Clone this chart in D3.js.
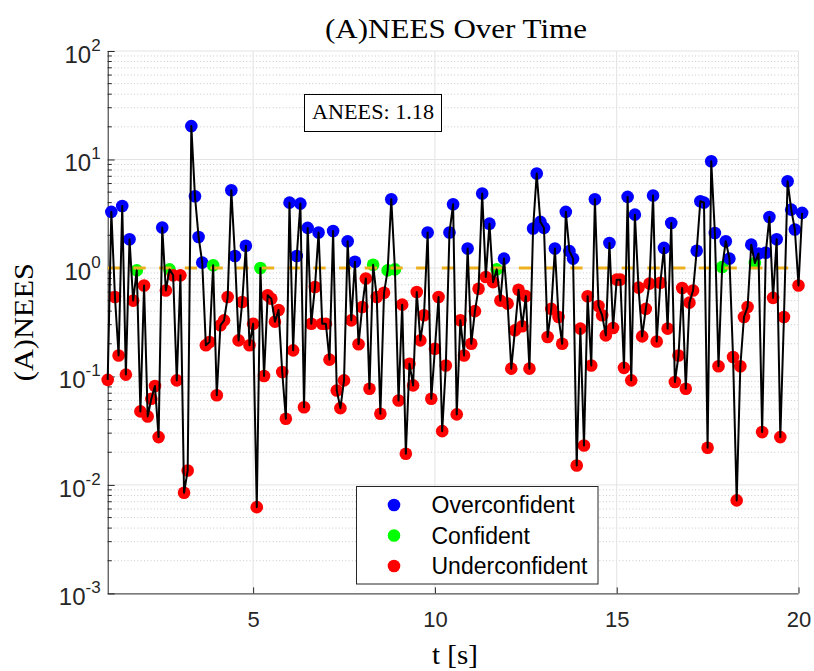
<!DOCTYPE html>
<html>
<head>
<meta charset="utf-8">
<script src="https://cdn.jsdelivr.net/npm/d3@7"></script>
<style>
  html, body { margin: 0; padding: 0; background: #ffffff; }
  svg { display: block; }
</style>
</head>
<body>
<svg id="chart" width="814" height="671"></svg>
<script>
// ---------------- DATA ----------------
const times = [
  1.0, 1.1, 1.2, 1.3, 1.4, 1.5, 1.6, 1.7, 1.8, 1.9,
  2.0, 2.1, 2.2, 2.3, 2.4, 2.5, 2.6, 2.7, 2.8, 2.9,
  3.0, 3.1, 3.2, 3.3, 3.4, 3.5, 3.6, 3.7, 3.8, 3.9,
  4.0, 4.1, 4.2, 4.3, 4.4, 4.5, 4.6, 4.7, 4.8, 4.9,
  5.0, 5.1, 5.2, 5.3, 5.4, 5.5, 5.6, 5.7, 5.8, 5.9,
  6.0, 6.1, 6.2, 6.3, 6.4, 6.5, 6.6, 6.7, 6.8, 6.9,
  7.0, 7.1, 7.2, 7.3, 7.4, 7.5, 7.6, 7.7, 7.8, 7.9,
  8.0, 8.1, 8.2, 8.3, 8.4, 8.5, 8.6, 8.7, 8.8, 8.9,
  9.0, 9.1, 9.2, 9.3, 9.4, 9.5, 9.6, 9.7, 9.8, 9.9,
  10.0, 10.1, 10.2, 10.3, 10.4, 10.5, 10.6, 10.7, 10.8, 10.9,
  11.0, 11.1, 11.2, 11.3, 11.4, 11.5, 11.6, 11.7, 11.8, 11.9,
  12.0, 12.1, 12.2, 12.3, 12.4, 12.5, 12.6, 12.7, 12.8, 12.9,
  13.0, 13.1, 13.2, 13.3, 13.4, 13.5, 13.6, 13.7, 13.8, 13.9,
  14.0, 14.1, 14.2, 14.3, 14.4, 14.5, 14.6, 14.7, 14.8, 14.9,
  15.0, 15.1, 15.2, 15.3, 15.4, 15.5, 15.6, 15.7, 15.8, 15.9,
  16.0, 16.1, 16.2, 16.3, 16.4, 16.5, 16.6, 16.7, 16.8, 16.9,
  17.0, 17.1, 17.2, 17.3, 17.4, 17.5, 17.6, 17.7, 17.8, 17.9,
  18.0, 18.1, 18.2, 18.3, 18.4, 18.5, 18.6, 18.7, 18.8, 18.9,
  19.0, 19.1, 19.2, 19.3, 19.4, 19.5, 19.6, 19.7, 19.8, 19.9,
  20.0, 20.1
];

const nees = [
  0.093, 3.29, 0.54, 0.156, 3.73, 0.104, 1.84, 0.50, 0.95, 0.0476,
  0.69, 0.0428, 0.0623, 0.0815, 0.0276, 2.36, 0.62, 0.97, 0.855, 0.092,
  0.855, 0.00846, 0.0136, 20.3, 4.58, 1.93, 1.12, 0.194, 0.208, 1.06,
  0.067, 0.296, 0.329, 0.54, 5.2, 1.29, 0.215, 0.486, 1.6, 0.194,
  0.306, 0.00624, 1.0, 0.101, 0.56, 0.52, 0.32, 0.41, 0.11, 0.0407,
  4.0, 0.174, 1.29, 3.92, 0.052, 2.34, 0.306, 0.668, 2.12, 0.306,
  0.306, 0.143, 2.19, 0.0743, 0.051, 0.092, 1.76, 0.329, 1.14, 0.198,
  0.437, 0.80, 0.077, 1.07, 0.54, 0.0453, 0.59, 0.95, 4.3, 0.97,
  0.060, 0.459, 0.0194, 0.131, 0.0827, 0.60, 0.215, 0.366, 2.12, 0.0623,
  0.18, 0.54, 0.0313, 0.126, 2.12, 3.87, 0.0447, 0.33, 0.156, 1.51,
  0.20, 0.40, 0.644, 4.85, 0.826, 2.56, 0.74, 0.97, 0.50, 1.22,
  0.469, 0.118, 0.266, 0.63, 0.29, 0.55, 0.118, 2.31, 7.42, 2.66,
  2.34, 0.231, 0.42, 1.51, 0.353, 0.20, 3.29, 1.43, 1.22, 0.0151,
  0.276, 0.0231, 0.548, 0.126, 4.3, 0.446, 0.366, 0.239, 1.70, 0.28,
  0.78, 0.78, 0.12, 4.52, 0.092, 3.1, 0.659, 0.234, 0.42, 0.717,
  4.65, 0.21, 0.73, 1.53, 0.276, 2.6, 0.0888, 0.156, 0.654, 0.077,
  0.479, 0.62, 1.44, 4.12, 4.0, 0.022, 9.64, 2.10, 0.124, 1.02,
  1.76, 1.22, 0.151, 0.0072, 0.124, 0.353, 0.437, 1.64, 1.11, 1.36,
  0.0307, 1.38, 2.95, 0.53, 1.84, 0.0276, 0.353, 6.3, 3.45, 2.26,
  0.69, 3.22
];

// O = Overconfident, C = Confident, U = Underconfident
const status = [
  "U","O","U","U","O","U","O","U","C","U",
  "U","U","U","U","U","O","U","C","U","U",
  "U","U","U","O","O","O","O","U","U","C",
  "U","U","U","U","O","O","U","U","O","U",
  "U","U","C","U","U","U","U","U","U","U",
  "O","U","O","O","U","O","U","U","O","U",
  "U","U","O","U","U","U","O","U","O","U",
  "U","U","U","C","U","U","U","C","O","C",
  "U","U","U","U","U","U","U","U","O","U",
  "U","U","U","U","O","O","U","U","U","O",
  "U","U","U","O","U","O","U","C","U","O",
  "U","U","U","U","U","U","U","O","O","O",
  "O","U","U","O","U","U","O","O","O","U",
  "U","U","U","U","O","U","U","U","O","U",
  "U","U","U","O","U","O","U","U","U","U",
  "O","U","U","O","U","O","U","U","U","U",
  "U","U","O","O","O","U","O","O","U","C",
  "O","O","U","U","U","U","U","O","C","O",
  "U","O","O","U","O","U","U","O","O","O",
  "U","O"
];

const statusKeys = ["O", "C", "U"];
const legendLabels = ["Overconfident", "Confident", "Underconfident"];
const statusColors = ["#0000ff", "#00ff00", "#ff0000"];

const xTicks = [5, 10, 15, 20];
const yDecades = [-3, -2, -1, 0, 1, 2];
const referenceLevel = 1;
const aneesText = "ANEES: 1.18";
const titleText = "(A)NEES Over Time";
const xLabelText = "t [s]";
const yLabelText = "(A)NEES";

// ---------------- LAYOUT ----------------
const svg = d3.select("#chart");
const L = 107.7, R = 798.5, T = 51, B = 593.4;

const x = d3.scaleLinear().domain([1, 20]).range([L, R]);
const y = d3.scaleLog().domain([1e-3, 1e2]).range([B, T]);
const color = d3.scaleOrdinal().domain(statusKeys).range(statusColors);

const sansFont = "'Liberation Sans', Arial, Helvetica, sans-serif";
const serifFont = "'Liberation Serif', 'Times New Roman', serif";

// minor grid (y, dotted)
const minorVals = [];
yDecades.slice(0, -1).forEach(d => {
  for (let m = 2; m <= 9; m++) minorVals.push(m * Math.pow(10, d));
});
svg.append("g").selectAll("line").data(minorVals).join("line")
  .attr("x1", L).attr("x2", R)
  .attr("y1", d => y(d)).attr("y2", d => y(d))
  .attr("stroke", "#c9c9c9").attr("stroke-width", 1)
  .attr("stroke-dasharray", "1,2.3");

// major grid
const decadeVals = yDecades.map(d => Math.pow(10, d));
svg.append("g").selectAll("line").data(decadeVals.slice(1)).join("line")
  .attr("x1", L).attr("x2", R)
  .attr("y1", d => y(d)).attr("y2", d => y(d))
  .attr("stroke", "#e3e3e3").attr("stroke-width", 1);
svg.append("g").selectAll("line").data(xTicks).join("line")
  .attr("x1", d => x(d)).attr("x2", d => x(d))
  .attr("y1", T).attr("y2", B)
  .attr("stroke", "#e3e3e3").attr("stroke-width", 1);

// axes
const axisColor = "#262626";
const xAxis = d3.axisBottom(x).tickValues(xTicks).tickSize(-6).tickFormat(d3.format("d"));
const gx = svg.append("g").attr("transform", `translate(0,${B})`).call(xAxis);
gx.select(".domain").attr("stroke", axisColor).attr("d", `M${L},0.5H${R}`);
gx.selectAll(".tick line").attr("stroke", axisColor);
gx.selectAll(".tick text")
  .attr("font-family", sansFont).attr("font-size", 22)
  .attr("fill", axisColor).attr("y", 18).attr("dy", "0.71em");

const yAxis = d3.axisLeft(y).tickValues(decadeVals).tickSize(-7).tickFormat("");
const gy = svg.append("g").attr("transform", `translate(${L},0)`).call(yAxis);
gy.select(".domain").attr("stroke", axisColor).attr("d", `M0.5,${T}V${B}`);
gy.selectAll(".tick line").attr("stroke", axisColor);

// minor ticks
svg.append("g").selectAll("line").data(minorVals).join("line")
  .attr("x1", L).attr("x2", L + 4)
  .attr("y1", d => y(d)).attr("y2", d => y(d))
  .attr("stroke", axisColor).attr("stroke-width", 1);

// y tick labels 10^k
const ylab = svg.append("g").selectAll("text").data(yDecades).join("text")
  .attr("font-family", sansFont).attr("fill", axisColor)
  .attr("text-anchor", "end")
  .attr("x", L - 7)
  .attr("y", d => y(Math.pow(10, d)) + 12);
ylab.append("tspan").attr("font-size", 24).text("10");
ylab.append("tspan").attr("font-size", 17).attr("dy", -12).text(d => d);

// markers
svg.append("g").selectAll("circle").data(nees).join("circle")
  .attr("cx", (d, i) => x(times[i]))
  .attr("cy", d => y(d))
  .attr("r", 6.3)
  .attr("fill", (d, i) => color(status[i]));

// reference dashed line
svg.append("line")
  .attr("x1", L).attr("x2", R)
  .attr("y1", y(referenceLevel)).attr("y2", y(referenceLevel))
  .attr("stroke", "#EDB120").attr("stroke-width", 3)
  .attr("stroke-dasharray", "12.3,13.4");

// data line
const line = d3.line().x((d, i) => x(times[i])).y(d => y(d));
svg.append("path").datum(nees)
  .attr("d", line)
  .attr("fill", "none").attr("stroke", "#000000").attr("stroke-width", 2)
  .attr("stroke-linejoin", "round");

// ANEES box
svg.append("rect").attr("x", 304.5).attr("y", 94.5).attr("width", 137).attr("height", 37)
  .attr("fill", "#ffffff").attr("stroke", "#000000").attr("stroke-width", 1);
svg.append("text").attr("x", 312).attr("y", 119)
  .attr("font-family", serifFont).attr("font-size", 21.5)
  .attr("textLength", 122).attr("lengthAdjust", "spacingAndGlyphs")
  .attr("fill", "#000").text(aneesText);

// legend
const lg = svg.append("g");
lg.append("rect").attr("x", 356.5).attr("y", 486.5).attr("width", 241.5).attr("height", 97.5)
  .attr("fill", "#ffffff").attr("stroke", axisColor).attr("stroke-width", 1);
const rows = lg.selectAll("g.row").data(statusKeys).join("g").attr("class", "row")
  .attr("transform", (d, i) => `translate(0,${505 + i * 30.5})`);
rows.append("circle").attr("cx", 394).attr("cy", 0).attr("r", 6.3).attr("fill", d => color(d));
rows.append("text").attr("x", 431.5).attr("y", 0).attr("dy", "0.36em")
  .attr("font-family", sansFont).attr("font-size", 23).attr("fill", "#000")
  .text((d, i) => legendLabels[i]);

// title & labels
svg.append("text").attr("x", 325).attr("y", 38)
  .attr("font-family", serifFont).attr("font-size", 28)
  .attr("textLength", 262).attr("lengthAdjust", "spacingAndGlyphs")
  .attr("fill", "#000").text(titleText);
svg.append("text").attr("x", 432).attr("y", 664)
  .attr("font-family", serifFont).attr("font-size", 27)
  .attr("textLength", 46).attr("lengthAdjust", "spacingAndGlyphs")
  .attr("fill", "#000").text(xLabelText);
svg.append("text")
  .attr("transform", `translate(33,${(T + B) / 2 + 59}) rotate(-90)`)
  .attr("font-family", serifFont).attr("font-size", 27)
  .attr("textLength", 118).attr("lengthAdjust", "spacingAndGlyphs")
  .attr("fill", "#000").text(yLabelText);
</script>
</body>
</html>
